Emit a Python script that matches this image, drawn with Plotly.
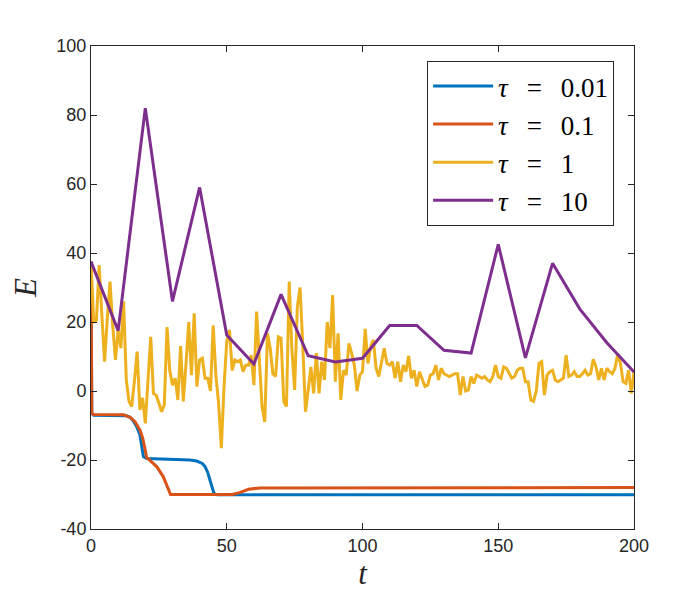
import plotly.graph_objects as go

# tau = 0.01 (key points of the fine-step curve)
t_001 = [0, 0.3, 1, 10, 13, 14.4, 15.5, 16.8, 18.0, 18.6, 19.3, 20.5, 30, 36.5, 38.9, 41, 42, 43, 43.8, 44.6, 45.3, 46.5, 200]
e_001 = [37.5, -6.5, -7, -7, -7.2, -7.6, -8.6, -10.3, -12.7, -15.6, -19.0, -19.6, -19.9, -20.0, -20.3, -21.0, -21.9, -23.6, -25.8, -28.0, -29.7, -30.1, -30.1]

# tau = 0.1
t_01 = [0, 0.3, 1, 12, 14.4, 16.2, 18.0, 19.0, 19.8, 20.5, 21.7, 24.2, 26.6, 27.7, 28.5, 29.3, 52, 55, 58, 62, 200]
e_01 = [37.5, -6.5, -6.8, -6.9, -7.6, -8.9, -11.3, -13.5, -16.5, -19.3, -20.1, -21.9, -24.8, -26.8, -28.7, -30.0, -30.0, -29.4, -28.5, -28.1, -28.0]

# tau = 1
t_1 = list(range(0, 201))
e_1 = [37.5, 20, 20.5, 36.5, 22, 8.5, 21, 31.7, 19, 9,
       17.7, 12.4, 26, 3.2, -3, -4.5, 3, 11.4, -5.5, -2,
       -9.4, 3, 15.7, -0.7, -1.2, -3.5, -6, -4, 18.5, 6,
       1.7, 3.7, -2.6, 13, -3, 8, 20, 4.6, 22.5, 1.3,
       9, 9.5, 3.7, 3.7, 0, 19, 4.6, -3.6, -16.6, 1.3,
       14.3, 17.7, 6, 9, 8.5, 9, 5.6, 7.5, 7.5, 10.4,
       1.7, 23, 7.5, -4.5, -9, 16.7, 12.4, 5, 4.2, 15.7,
       15.3, -3, -4.5, 31.7, 11.9, 0.3, 24.4, 30, 13.3, -6,
       0.3, 7, -0.7, 11, -0.7, 8.5, 3.2, 20, 12.4, 27.8,
       2.7, 16.7, -2.6, 6, 4.6, 13.8, 11, 7.5, 0, 4.6,
       5.6, 18, 8, 12.9, 14.8, 6.6, 4.2, 8, 12.4, 8,
       7.5, 8.5, 3.7, 8.5, 2.7, 7.5, 5.6, 10.2, 3.7, 6,
       1.3, 5.6, 3.7, 1.3, 1.7, 4.6, 5, 7.5, 3.2, 6.6,
       5, 4.6, 4.2, 4.6, 5, 5, -1.2, 4.2, 0, 0.3,
       4.2, 2.2, 4.6, 4.2, 3.7, 4.2, 3.2, 2.7, 4.2, 7.5,
       4.2, 3.7, 7, 6.6, 5, 3.7, 4.2, 6, 6.6, 6.6,
       2.7, 2.7, -2.6, -3, 0, 8, 8.5, -1.2, 4.6, 5.6,
       6, 3.2, 2.7, 3.2, 3.7, 10.4, 4.2, 4.6, 5.6, 4.2,
       4.2, 5, 6, 4.6, 5, 9.2, 7, 3.2, 6.6, 3.2,
       6.6, 5.6, 5, 6.6, 10.7, 8, 2.7, 2.2, 6, -0.7,
       5.6]

# tau = 10
t_10 = list(range(0, 201, 10))
e_10 = [37.5, 17.5, 82, 26, 59, 16.2, 7.8, 28, 10.2, 8.4,
        9.5, 19, 19, 11.8, 11, 42.5, 9.6, 37, 23.8, 14, 5.5]

sp = "\u2002\u2009"
labels = [f"<i>τ</i>{sp}={sp}0.01", f"<i>τ</i>{sp}={sp}0.1",
          f"<i>τ</i>{sp}={sp}1", f"<i>τ</i>{sp}={sp}10"]
colors = ["#0072BD", "#D95319", "#EDB120", "#7E2F8E"]

x_ticks = [0, 50, 100, 150, 200]
y_ticks = [-40, -20, 0, 20, 40, 60, 80, 100]
y_ticktext = ["-40", "-20", "0", "20", "40", "60", "80", "100"]

fig = go.Figure()
series = [(t_001, e_001), (t_01, e_01), (t_1, e_1), (t_10, e_10)]
for i, ((xs, ys), name, c) in enumerate(zip(series, labels, colors)):
    fig.add_trace(go.Scatter(x=xs, y=ys, mode="lines", name=name,
                             line=dict(color=c, width=3),
                             legendgroup=str(i)))

axis_common = dict(showgrid=False, zeroline=False, showline=True, mirror="ticks",
                   linecolor="#262626", linewidth=1, ticks="inside", ticklen=6,
                   tickcolor="#262626",
                   tickfont=dict(family="Liberation Sans, Arial", size=18, color="#262626"))

title_font = dict(family="Liberation Serif, DejaVu Serif", size=31, color="#262626")

fig.update_layout(
    width=700, height=600,
    margin=dict(l=83, r=74, t=38, b=79),
    paper_bgcolor="white", plot_bgcolor="white",
    xaxis=dict(range=[0, 200], tickvals=x_ticks, **axis_common,
               title=dict(text="<i>t</i>", font=title_font, standoff=5)),
    yaxis=dict(range=[-40, 100], tickvals=y_ticks, ticktext=y_ticktext, **axis_common,
               automargin=True,
               title=dict(text="<i>E</i>", font=title_font, standoff=14)),
    legend=dict(x=0.619, y=0.969, xanchor="left", yanchor="top",
                bgcolor="white", bordercolor="#262626", borderwidth=1,
                font=dict(family="Liberation Serif, DejaVu Serif", size=27, color="black"),
                itemwidth=60, tracegroupgap=0),
    showlegend=True,
)

fig.write_html("out.html")
